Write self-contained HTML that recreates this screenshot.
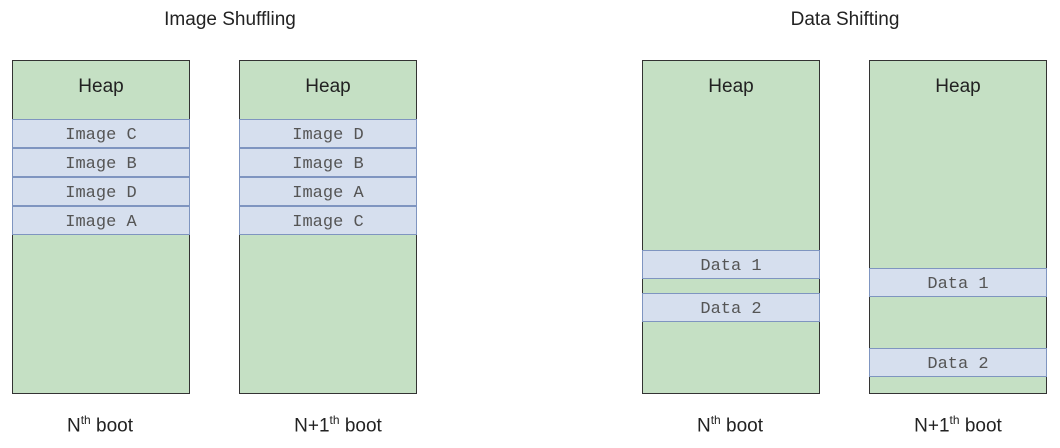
<!DOCTYPE html>
<html><head><style>
body{margin:0;width:1060px;height:448px;background:#fff;position:relative;font-family:"Liberation Sans",sans-serif;overflow:hidden}
.t{position:absolute;font-size:19px;color:#222;text-align:center}
.box{position:absolute;top:60px;width:176px;height:332px;background:#c5e0c4;border:1px solid #333}
.heap{position:absolute;left:0;right:0;top:15px;text-align:center;font-size:19px;color:#222}
.r{position:absolute;left:-1px;width:176px;height:27px;background:#d6dfee;border:1px solid #7f95c0;text-align:center;line-height:31px;font-family:"Liberation Mono",monospace;font-size:17px;color:#555}
sup{font-size:12px}
</style></head><body>
<div class="t" style="left:130px;width:200px;top:9px">Image Shuffling</div>
<div class="t" style="left:745px;width:200px;top:9px">Data Shifting</div>

<div class="box" style="left:12px"><div class="heap">Heap</div>
<div class="r" style="top:58px">Image C</div><div class="r" style="top:87px">Image B</div><div class="r" style="top:116px">Image D</div><div class="r" style="top:145px">Image A</div></div>
<div class="box" style="left:239px"><div class="heap">Heap</div>
<div class="r" style="top:58px">Image D</div><div class="r" style="top:87px">Image B</div><div class="r" style="top:116px">Image A</div><div class="r" style="top:145px">Image C</div></div>
<div class="box" style="left:642px"><div class="heap">Heap</div>
<div class="r" style="top:189px">Data 1</div><div class="r" style="top:232px">Data 2</div></div>
<div class="box" style="left:869px"><div class="heap">Heap</div>
<div class="r" style="top:207px">Data 1</div><div class="r" style="top:287px">Data 2</div></div>

<div class="t" style="left:0px;width:200px;top:413px">N<sup>th</sup> boot</div>
<div class="t" style="left:238px;width:200px;top:413px">N+1<sup>th</sup> boot</div>
<div class="t" style="left:630px;width:200px;top:413px">N<sup>th</sup> boot</div>
<div class="t" style="left:858px;width:200px;top:413px">N+1<sup>th</sup> boot</div>
</body></html>
